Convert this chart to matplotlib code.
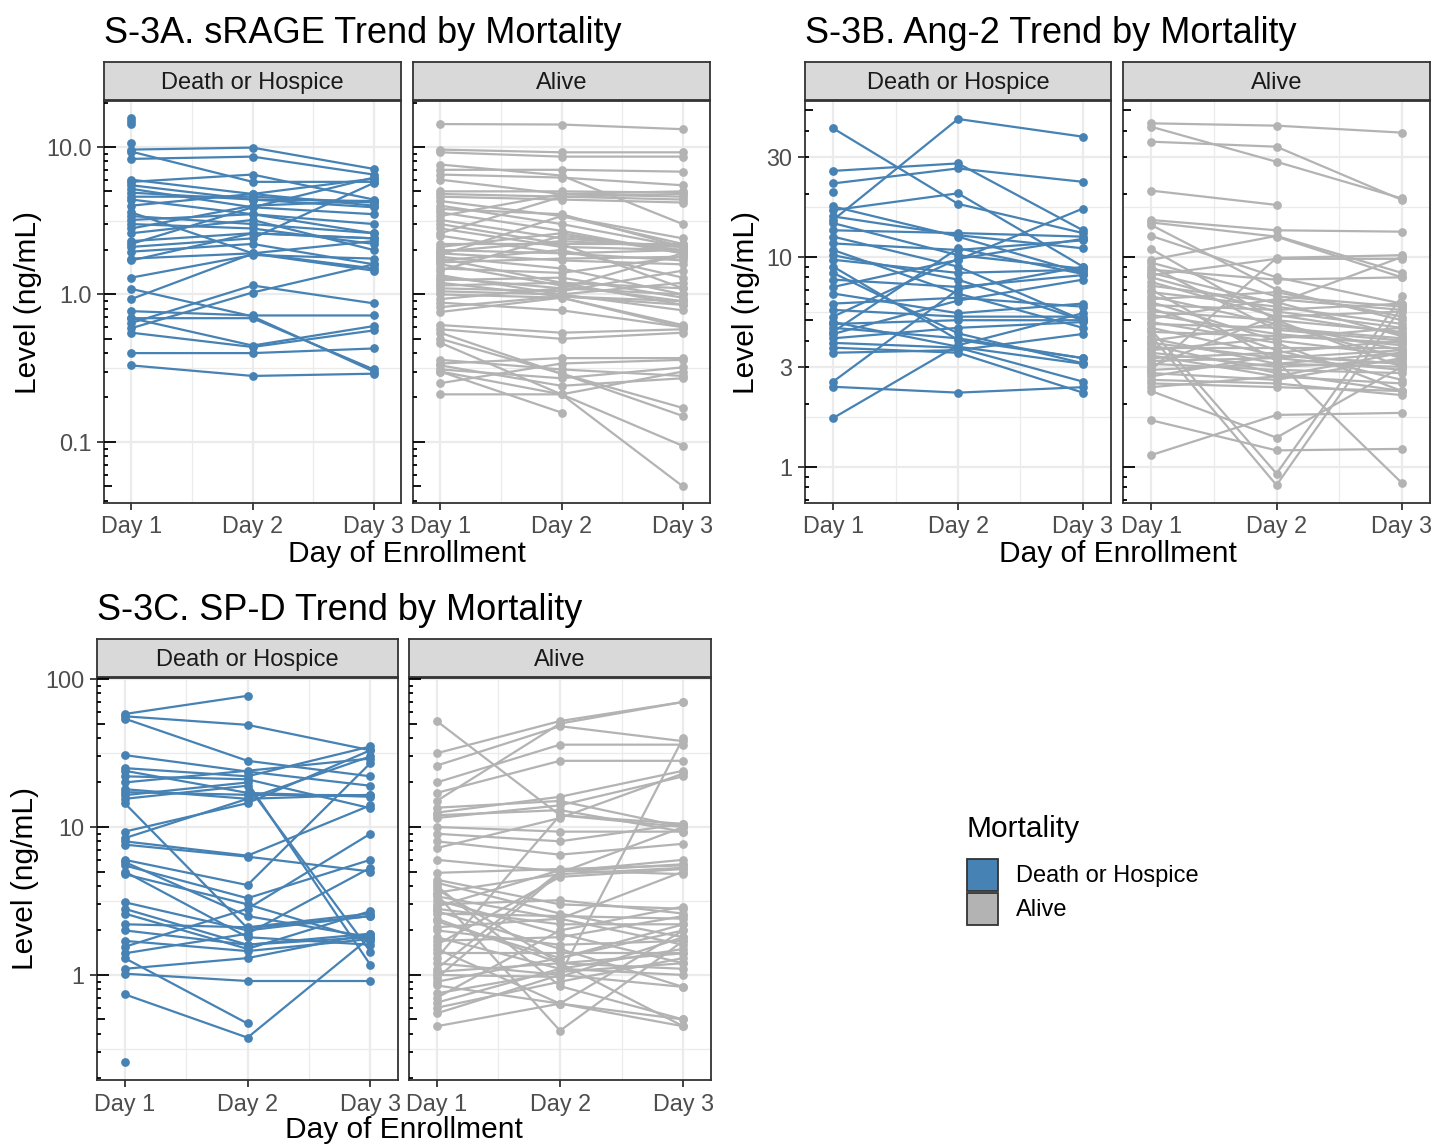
import numpy as np
import matplotlib.pyplot as plt
from matplotlib.patches import Rectangle
from matplotlib.ticker import NullFormatter
from matplotlib.transforms import blended_transform_factory

plt.rcParams['font.family'] = ['Liberation Sans', 'DejaVu Sans']

nan = np.nan
days = [1, 2, 3]
day_labels = ['Day 1', 'Day 2', 'Day 3']
groups = ['Death or Hospice', 'Alive']
group_colors = ['#4682B4', '#B3B3B3']

# sRAGE (ng/mL), one row per patient: day 1, day 2, day 3
srage_death = [
    [15.6, nan, nan], [15.0, nan, nan], [14.4, nan, nan], [10.6, nan, nan],
    [9.6, 9.9, 7.1], [8.3, 8.6, 6.5], [9.3, 5.8, 5.8], [6.0, 4.8, 6.1],
    [5.8, 6.5, 4.4], [5.5, 4.4, 3.9], [5.2, 3.9, 3.5], [4.9, 4.4, 4.3],
    [4.6, 4.6, 4.2], [4.4, 3.5, 2.6], [4.0, 4.8, 4.0], [3.6, 1.9, 2.3],
    [3.4, 3.0, 2.6], [3.2, 3.5, 3.0], [3.0, 2.8, 2.2], [2.8, 4.0, 4.3],
    [2.6, 3.2, 2.0], [2.3, 2.6, 2.4], [2.2, 3.9, 6.2], [2.1, 2.4, 5.7],
    [1.95, 2.2, 1.6], [1.75, 1.9, 1.5], [1.7, 2.6, 2.4], [1.3, 1.85, 1.75],
    [1.09, 0.71, 0.30], [0.93, 1.89, 1.45], [0.77, 0.72, 0.72],
    [0.69, 0.45, 0.61], [0.64, 1.15, 0.87], [0.59, 1.03, 1.6],
    [0.55, 0.44, 0.57], [0.40, 0.40, 0.43], [0.33, 0.28, 0.29],
    [0.69, 0.69, 0.31],
]
srage_alive = [
    [14.3, 14.2, 13.2], [9.6, 9.2, 9.2], [9.2, 8.6, 8.6], [7.6, 6.4, 3.0],
    [7.0, 7.0, 6.8], [6.5, 6.2, 5.5], [6.0, 4.8, 5.0], [5.0, 5.0, 4.9],
    [4.8, 4.6, 4.8], [4.6, 4.4, 4.2], [4.3, 3.4, 2.4], [4.0, 3.0, 2.1],
    [3.8, 3.5, 2.1], [3.6, 2.7, 1.9], [3.4, 4.8, 4.6], [3.2, 2.4, 2.1],
    [3.0, 2.2, 1.1], [2.8, 2.1, 2.0], [2.6, 4.6, 4.4], [2.5, 1.9, 1.7],
    [2.2, 2.2, 2.2], [2.1, 2.6, 1.9], [2.0, 1.9, 2.0], [1.95, 2.3, 2.1],
    [1.9, 1.7, 1.6], [1.85, 3.4, 2.2], [1.8, 1.5, 1.0], [1.75, 1.2, 0.85],
    [1.7, 2.0, 1.3], [1.65, 1.75, 1.8], [1.6, 1.15, 0.9], [1.5, 1.4, 1.8],
    [1.45, 2.5, 2.0], [1.35, 1.0, 1.2], [1.3, 1.1, 1.0], [1.25, 1.3, 0.95],
    [1.2, 0.97, 0.85], [1.15, 1.2, 1.1], [1.1, 1.05, 1.45], [1.05, 1.0, 0.78],
    [1.0, 0.95, 0.62], [0.93, 1.1, 1.9], [0.88, 0.78, 0.6], [0.82, 0.97, 0.9],
    [0.76, 0.95, 0.6], [0.62, 0.55, 0.58], [0.58, 0.5, 0.55],
    [0.55, 0.29, 0.17], [0.50, 0.29, 0.15], [0.47, 0.21, 0.05],
    [0.36, 0.31, 0.28], [0.34, 0.37, 0.37], [0.33, 0.24, 0.27],
    [0.31, 0.27, 0.32], [0.30, 0.21, 0.094], [0.25, 0.34, 0.36],
    [0.21, 0.21, 0.30], [0.30, 0.158, nan],
]

# Ang-2 (ng/mL)
ang2_death = [
    [41.0, 17.9, 13.0], [25.7, 27.9, 13.4], [22.4, 26.4, 22.8], [20.5, nan, nan],
    [15.0, 45.4, 37.4], [17.4, 12.5, 8.4], [16.7, 20.1, 9.0], [15.6, 12.7, 11.0],
    [14.5, 10.2, 8.8], [13.4, 13.0, 12.5], [12.5, 9.0, 5.0], [11.6, 10.8, 12.0],
    [10.8, 6.7, 4.6], [10.2, 7.8, 5.0], [9.7, 8.4, 8.7], [9.0, 4.03, 3.3],
    [8.4, 4.33, 3.12], [7.8, 7.2, 8.2], [7.2, 9.7, 17.0], [6.7, 5.4, 6.0],
    [6.0, 6.4, 5.8], [5.6, 5.2, 5.2], [5.2, 9.8, 12.2], [4.9, 3.74, 3.1],
    [4.8, 5.0, 5.0], [4.6, 4.1, 3.3], [4.4, 11.0, 8.3], [4.3, 6.2, 7.8],
    [4.1, 4.6, 4.9], [3.9, 3.7, 2.55], [3.7, 3.5, 2.26], [3.5, 3.6, 4.3],
    [2.55, 7.0, 9.0], [2.41, 2.26, 2.4], [1.71, 3.8, 5.4],
]
ang2_alive = [
    [43.3, 42.2, 39.1], [41.7, 28.4, 19.0], [35.4, 33.5, 18.7], [20.7, 17.7, nan],
    [15.0, 13.4, 13.2], [14.6, 12.5, 8.0], [14.2, 7.0, 5.0], [12.6, 8.0, 6.0],
    [10.9, 5.0, 3.0], [9.7, 12.6, 8.4], [9.4, 6.5, 5.8], [9.0, 4.5, 4.0],
    [8.7, 7.8, 8.0], [8.4, 6.0, 10.0], [8.2, 9.8, 9.8], [8.0, 5.5, 4.6],
    [7.6, 5.2, 5.5], [7.3, 6.1, 4.2], [7.0, 3.2, 0.84], [6.8, 5.8, 4.8],
    [6.5, 4.8, 3.6], [6.3, 6.8, 5.2], [6.1, 4.0, 3.4], [5.9, 5.6, 6.0],
    [5.7, 3.6, 2.6], [5.5, 5.0, 4.4], [5.3, 4.3, 3.8], [5.1, 6.3, 5.6],
    [4.9, 3.9, 2.3], [4.8, 4.6, 4.1], [4.6, 3.4, 3.1], [4.5, 0.93, 6.5],
    [4.4, 4.2, 3.9], [4.2, 0.82, 5.8], [4.1, 3.1, 3.5], [4.0, 4.8, 3.3],
    [3.9, 3.3, 2.9], [3.8, 2.8, 2.3], [3.7, 3.7, 3.7], [3.6, 4.1, 4.6],
    [3.5, 3.0, 3.2], [3.4, 2.7, 2.5], [3.3, 3.5, 4.0], [3.2, 3.3, 3.6],
    [3.1, 2.9, 2.8], [3.0, 5.3, 4.3], [2.9, 3.1, 3.0], [2.8, 2.6, 3.3],
    [2.7, 3.4, 3.1], [2.6, 2.5, 2.2], [2.5, 2.4, 2.3], [2.4, 2.7, 3.5],
    [2.3, 1.38, 3.0], [2.9, 9.9, 10.2], [1.67, 1.2, 1.22], [1.14, 1.77, 1.81],
]

# SP-D (ng/mL)
spd_death = [
    [58, 77, nan], [56, 49, 33], [54, 28, 22], [30.6, 23.7, 19], [25, 22, 35],
    [24, 17, 16], [22, 21, 13.4], [20, 24, 29], [18, 15.5, 16.5],
    [17.2, 16.5, 16.4], [16.4, 20, 1.17], [15.5, 19, 1.44], [14.5, 2.07, 2.5],
    [9.3, 14.5, 33], [8.4, 15.5, 30], [8.0, 6.4, 14], [7.6, 6.3, 5.0],
    [6.0, 4.05, 27], [5.8, 2.5, 1.8], [5.5, 3.3, 6.0], [5.0, 1.8, 1.6],
    [4.8, 3.0, 1.7], [3.1, 2.0, 2.5], [2.8, 1.6, 1.9], [2.6, 1.5, 2.7],
    [2.2, 2.1, 2.6], [2.0, 1.6, 1.8], [1.7, 1.45, 1.75], [1.55, 2.8, 9.0],
    [1.4, 1.9, 5.3], [1.3, 0.47, nan], [1.1, 1.3, 1.9], [1.02, 0.91, 0.91],
    [0.74, 0.377, 1.8], [0.26, nan, nan],
]
spd_alive = [
    [52, 12, 10.5], [31.5, 52, 70], [26, 48, 38], [20, 36, 36], [17, 28, 28],
    [15, 50, 70], [13.5, 15, 10], [12.5, 16, 24], [12, 13, 9.3], [11.5, 14, 22],
    [10, 9.3, 9.3], [9.0, 8.0, 10.5], [8.0, 6.5, 7.7], [7.2, 11.5, 23],
    [6.0, 5.0, 6.0], [4.9, 5.2, 5.5], [4.4, 3.0, 2.8], [4.2, 2.6, 1.8],
    [4.0, 0.84, 0.5], [3.8, 1.2, 0.45], [3.6, 4.8, 5.3], [3.4, 2.4, 1.6],
    [3.2, 1.9, 1.2], [3.0, 3.2, 2.6], [2.9, 5.1, 4.8], [2.8, 2.2, 2.2],
    [2.7, 1.5, 0.83], [2.6, 2.5, 2.4], [2.4, 1.2, 1.4], [2.3, 1.3, 2.0],
    [2.1, 2.4, 5.0], [2.0, 1.6, 1.7], [1.8, 1.1, 1.5], [1.7, 1.8, 2.5],
    [1.6, 4.6, 5.2], [1.5, 0.64, 0.45], [1.4, 1.4, 1.4], [1.3, 12, 10],
    [1.2, 1.0, 40], [1.1, 5.0, 5.6], [1.05, 1.2, 1.1], [1.0, 0.97, 1.8],
    [0.95, 4.9, 10], [0.9, 1.3, 2.2], [0.85, 0.64, 2.0], [3.5, 0.42, 1.7],
    [0.75, 1.05, 1.2], [0.7, 2.0, 2.9], [0.65, 1.1, 1.0], [0.6, 0.9, 1.3],
    [0.55, 1.0, 0.83], [0.45, 0.64, 0.5],
]

W, H = 1435, 1145
fig = plt.figure(figsize=(W / 100, H / 100), dpi=100)

DARK = '#333333'
GRID = '#EBEBEB'
TICKC = '#4D4D4D'


def px_axes(x0, y0, x1, y1):
    return fig.add_axes([x0 / W, 1 - y1 / H, (x1 - x0) / W, (y1 - y0) / H])


def log_ticks(ax, ylim, width_px):
    trans = blended_transform_factory(ax.transAxes, ax.transData)
    for d in range(-3, 4):
        for k in range(1, 10):
            v = k * 10.0 ** d
            if not (ylim[0] <= v <= ylim[1]):
                continue
            L = 12 if k == 1 else (8 if k == 5 else 4)
            ax.plot([0, L / width_px], [v, v], transform=trans, color='black',
                    lw=1.3, clip_on=False, solid_capstyle='butt', zorder=5)


def draw_panel(title, data, facets, top, bottom, ylim, breaks, blabels,
               minor, title_pos, xlab_y, ylab_x):
    for i, (x0, x1) in enumerate(facets):
        ax = px_axes(x0, top, x1, bottom)
        st = px_axes(x0, top - 39, x1, top - 1)
        st.set_facecolor('#D9D9D9')
        st.set_xticks([])
        st.set_yticks([])
        for s in st.spines.values():
            s.set_color(DARK)
            s.set_linewidth(1.3)
        st.text(0.5, 0.45, groups[i], ha='center', va='center', fontsize=17,
                color='#1A1A1A', transform=st.transAxes)

        rows = data[i]
        for r in rows:
            ax.plot(days, r, '-', color=group_colors[i], lw=1.6, zorder=2)
        for r in rows:
            ax.plot(days, r, 'o', color=group_colors[i], ms=6.3, zorder=3,
                    markeredgewidth=0)

        ax.set_yscale('log')
        ax.set_ylim(*ylim)
        ax.set_xlim(0.775, 3.225)
        ax.set_yticks(breaks)
        ax.set_yticklabels(blabels)
        ax.set_yticks(minor, minor=True)
        ax.yaxis.set_minor_formatter(NullFormatter())
        ax.set_xticks(days)
        ax.set_xticklabels(day_labels)
        ax.set_xticks([1.5, 2.5], minor=True)
        ax.grid(True, which='major', color=GRID, lw=1.6, zorder=0)
        ax.grid(True, which='minor', color=GRID, lw=0.9, zorder=0)
        ax.set_axisbelow(True)
        ax.tick_params(which='minor', length=0)
        ax.tick_params(which='major', length=5, width=1.3, color=DARK,
                       labelsize=16.8, labelcolor=TICKC, pad=4)
        if i > 0:
            ax.tick_params(axis='y', which='both', left=False, labelleft=False)
        for s in ax.spines.values():
            s.set_color(DARK)
            s.set_linewidth(1.3)
        log_ticks(ax, ylim, x1 - x0)

    fig.text(title_pos[0] / W, 1 - title_pos[1] / H, title, fontsize=26,
             va='baseline', ha='left', color='black')
    cx = (facets[0][0] + facets[1][1]) / 2
    fig.text(cx / W, 1 - xlab_y / H, 'Day of Enrollment', fontsize=21.5,
             ha='center', va='center')
    fig.text(ylab_x / W, 1 - (top + bottom) / 2 / H, 'Level (ng/mL)',
             fontsize=21.5, rotation=90, ha='center', va='center')


draw_panel('S-3A. sRAGE Trend by Mortality', [srage_death, srage_alive],
           [(104, 401), (413, 710)], 101, 503, (0.0385, 20.5),
           [0.1, 1, 10], ['0.1', '1.0', '10.0'], [10 ** -0.5, 10 ** 0.5],
           (104, 43), 554, 28)

draw_panel('S-3B. Ang-2 Trend by Mortality', [ang2_death, ang2_alive],
           [(805, 1111), (1123, 1430)], 101, 503, (0.674, 55.3),
           [1, 3, 10, 30], ['1', '3', '10', '30'],
           [3 ** 0.5, 30 ** 0.5, 300 ** 0.5],
           (805, 43), 554, 746)

draw_panel('S-3C. SP-D Trend by Mortality', [spd_death, spd_alive],
           [(97, 398), (409, 711)], 678, 1080, (0.195, 101.6),
           [1, 10, 100], ['1', '10', '100'],
           [10 ** -0.5, 10 ** 0.5, 10 ** 1.5],
           (97, 620), 1130, 25)

# legend
fig.text(966 / W, 1 - 829 / H, 'Mortality', fontsize=21.5, va='center',
         ha='left')
for j, (g, c) in enumerate(zip(groups, group_colors)):
    ytop = 859 + j * 34
    fig.add_artist(Rectangle((967 / W, 1 - (ytop + 32) / H), 31 / W, 32 / H,
                             transform=fig.transFigure, facecolor=c,
                             edgecolor=DARK, lw=1.3))
    fig.text(1016 / W, 1 - (ytop + 17) / H, g, fontsize=17, va='center',
             ha='left')

fig.savefig('out.png', dpi=100)
